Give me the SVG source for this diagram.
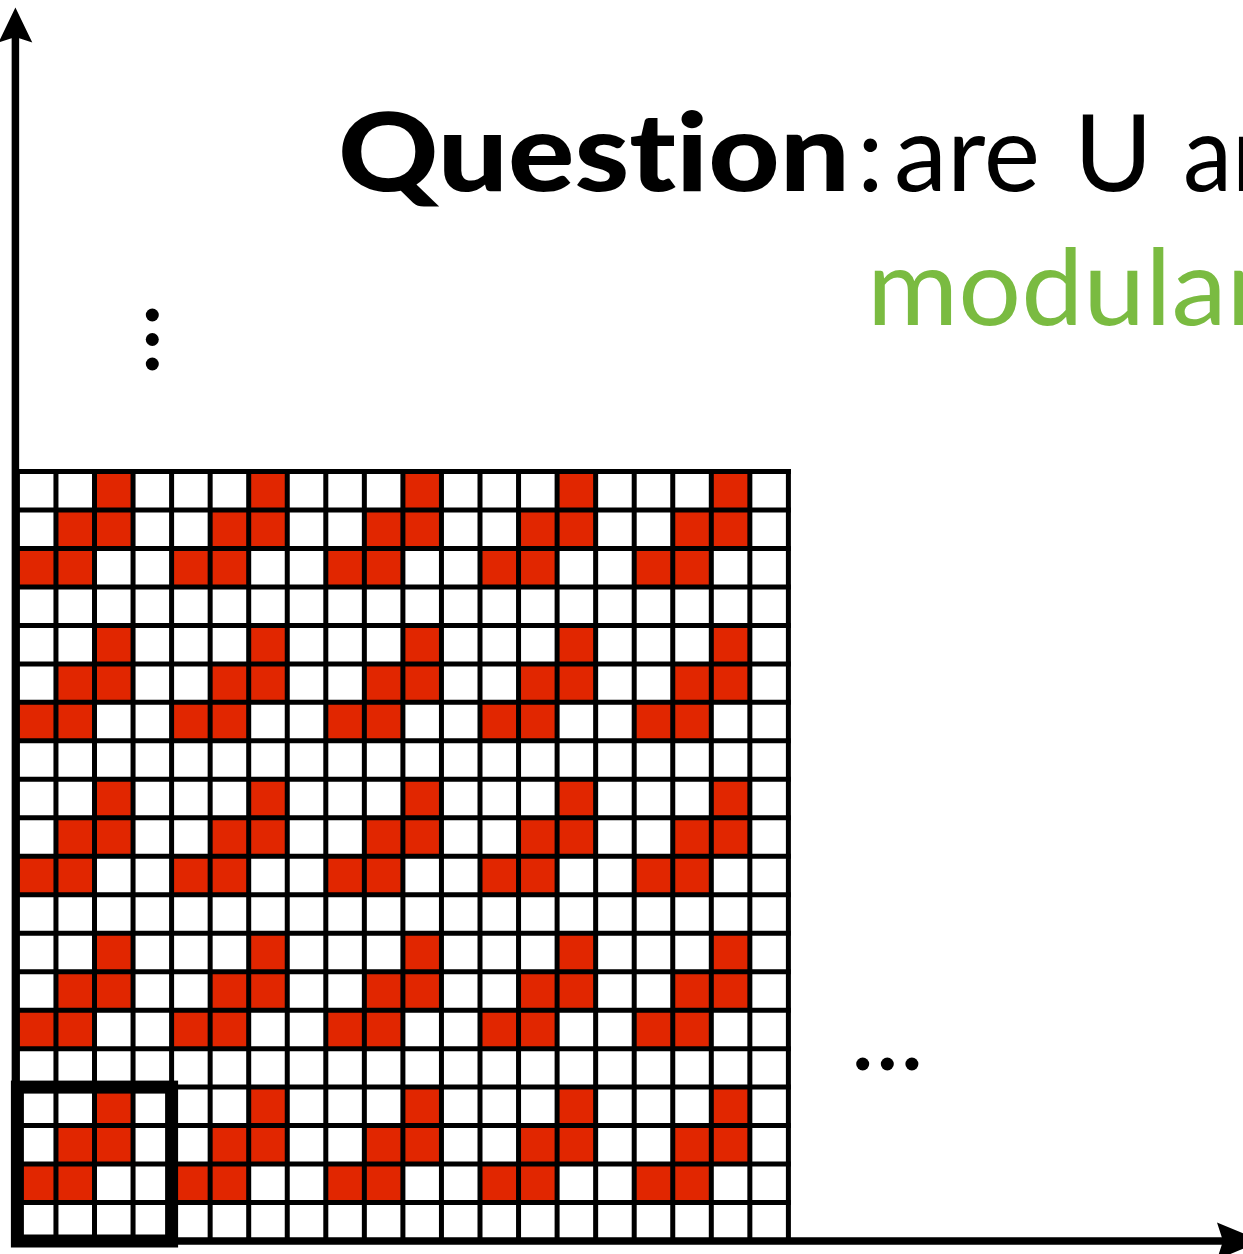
<svg xmlns="http://www.w3.org/2000/svg" width="1243" height="1254" viewBox="0 0 1243 1254">
<style>
.t{font-family:Lato,"Open Sans","Liberation Sans",sans-serif;font-size:107px;fill:#000;font-variant-ligatures:none;font-feature-settings:"liga" 0,"clig" 0,"dlig" 0}
.b{font-weight:900;font-size:108px}
.g{fill:#7ABB41}
.red{fill:#E12600}
.gl{stroke:#000;stroke-width:5;fill:none}
.ax{stroke:#000;stroke-width:7.5;fill:none}
.ah{fill:#000}
.dot{fill:#000}
.hl{stroke:#000;stroke-width:13;fill:none}
</style>
<defs>
<pattern id="tile" patternUnits="userSpaceOnUse" x="17.4" y="471.5" width="154.2" height="153.9">
<rect class="red" x="77.1" y="0" width="38.55" height="38.48"/>
<rect class="red" x="38.55" y="38.48" width="77.1" height="38.48"/>
<rect class="red" x="0" y="76.95" width="77.1" height="38.48"/>
</pattern>
</defs>
<rect width="1243" height="1254" fill="#fff"/>
<g id="grid">
<rect x="17.4" y="471.5" width="771" height="769.5" fill="url(#tile)"/>
<path class="gl" d="M17.4,469V1241M55.95,469V1241M94.5,469V1241M133.05,469V1241M171.6,469V1241M210.15,469V1241M248.7,469V1241M287.25,469V1241M325.8,469V1241M364.35,469V1241M402.9,469V1241M441.45,469V1241M480,469V1241M518.55,469V1241M557.1,469V1241M595.65,469V1241M634.2,469V1241M672.75,469V1241M711.3,469V1241M749.85,469V1241M788.4,469V1241"/>
<path class="gl" d="M15,471.5H790.9M15,509.98H790.9M15,548.45H790.9M15,586.93H790.9M15,625.4H790.9M15,663.88H790.9M15,702.35H790.9M15,740.83H790.9M15,779.3H790.9M15,817.78H790.9M15,856.25H790.9M15,894.73H790.9M15,933.2H790.9M15,971.68H790.9M15,1010.15H790.9M15,1048.63H790.9M15,1087.1H790.9M15,1125.58H790.9M15,1164.05H790.9M15,1202.53H790.9"/>
</g>
<g id="highlight">
<rect class="hl" x="17.4" y="1087.1" width="154.2" height="153.9"/>
</g>
<g id="axes">
<path class="ax" d="M15.4,1244.75V36"/>
<path class="ax" d="M11.65,1241H1226"/>
<polygon class="ah" points="15.4,7.5 32.3,42.5 15.4,37 -1.5,42.5"/>
<polygon class="ah" points="1262,1241 1217,1222.5 1223,1241 1217,1259.5"/>
</g>
<g id="dots-vertical">
<circle class="dot" cx="152.3" cy="315" r="6.5"/>
<circle class="dot" cx="152.3" cy="339.5" r="6.5"/>
<circle class="dot" cx="152.3" cy="364" r="6.5"/>
</g>
<g id="dots-horizontal">
<circle class="dot" cx="862.7" cy="1064" r="6.5"/>
<circle class="dot" cx="887.3" cy="1064" r="6.5"/>
<circle class="dot" cx="911.9" cy="1064" r="6.5"/>
</g>
<g id="title">
<text class="t" y="191"><tspan class="b" x="338" textLength="512" lengthAdjust="spacingAndGlyphs">Question</tspan><tspan x="857">:</tspan> <tspan x="894" textLength="146" lengthAdjust="spacingAndGlyphs">are</tspan> <tspan x="1074">U</tspan> <tspan x="1183" textLength="104" lengthAdjust="spacingAndGlyphs">an</tspan></text>
<text class="t g" y="325" x="867" textLength="400" lengthAdjust="spacingAndGlyphs">modular</text>
</g>
</svg>
